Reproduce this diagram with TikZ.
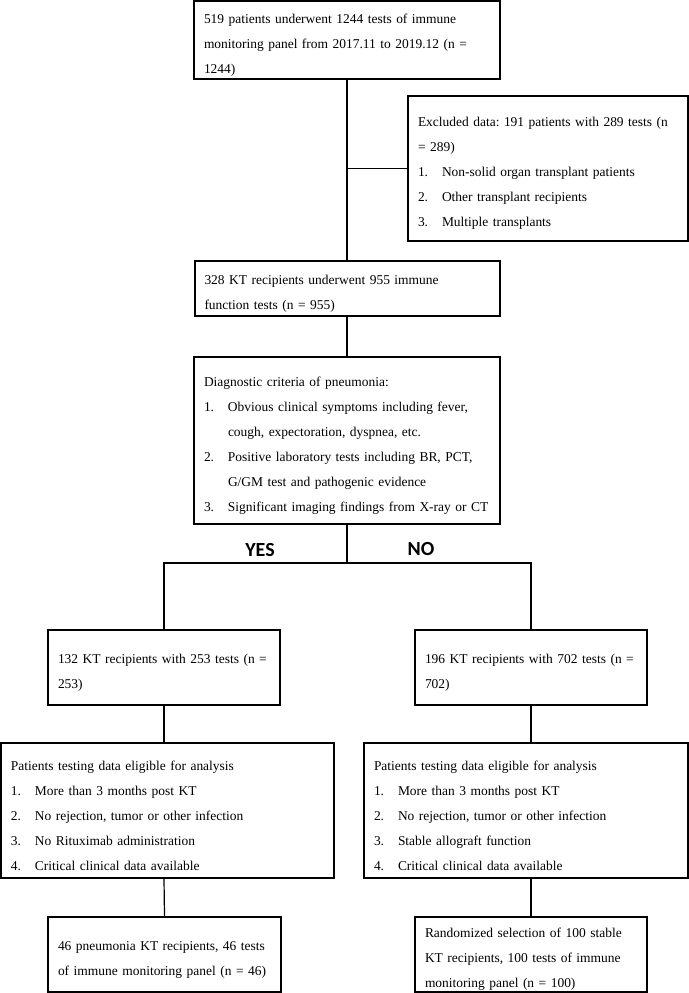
\documentclass[tikz,border=0pt]{standalone}
\usepackage{fontspec}
\setmainfont{Liberation Serif}
\newfontfamily\calfont{Carlito}
\usepackage{tikz}
\newcommand{\inum}[1]{\makebox[18pt][l]{#1}}

\begin{document}
\begin{tikzpicture}[
x=0.75pt,y=-0.75pt,
box/.style n args={2}{draw=black,line width=1.5pt,minimum width=#1*0.75pt,minimum height=#2*0.75pt,text width=(#1-20)*0.75pt,inner xsep=7.5pt,inner ysep=0pt,align=left,
  font=\fontsize{10.1}{18.75}\selectfont\frenchspacing,execute at begin node={\rightskip=-20pt plus 2em\rule{0pt}{14.5pt}}},
link/.style={draw=black,line width=0.9pt},
choice/.style={font=\calfont\bfseries\fontsize{15}{18}\selectfont}
]
\useasboundingbox (0,0) rectangle (689,993);

% top column
\node[box={306}{78}] (start) at (347,40) {519 patients underwent 1244 tests of immune\\ monitoring panel from 2017.11 to 2019.12 (n =\\ 1244)};
\node[box={280}{145}] (excl) at (548,168.5) {Excluded data: 191 patients with 289 tests (n\\ = 289)\\ \inum{1.}Non-solid organ transplant patients\\ \inum{2.}Other transplant recipients\\ \inum{3.}Multiple transplants};
\node[box={305}{55}] (screen) at (347,288.5) {328 KT recipients underwent 955 immune\\ function tests (n = 955)};
\node[box={306}{167}] (diag) at (347,440.5) {Diagnostic criteria of pneumonia:\\ \inum{1.}Obvious clinical symptoms including fever,\\ \inum{}cough, expectoration, dyspnea, etc.\\ \inum{2.}Positive laboratory tests including BR, PCT,\\ \inum{}G/GM test and pathogenic evidence\\ \inum{3.}Significant imaging findings from X-ray or CT};

% pneumonia branch
\node[box={232}{75}] (yes1) at (164,667.5) {132 KT recipients with 253 tests (n =\\ 253)};
\node[box={333}{135}] (yes2) at (167.5,810.5) {Patients testing data eligible for analysis\\ \inum{1.}More than 3 months post KT\\ \inum{2.}No rejection, tumor or other infection\\ \inum{3.}No Rituximab administration\\ \inum{4.}Critical clinical data available};
\node[box={233}{75}] (yes3) at (164.5,954.5) {46 pneumonia KT recipients, 46 tests\\ of immune monitoring panel (n = 46)};

% stable branch
\node[box={232}{75}] (no1) at (531,667.5) {196 KT recipients with 702 tests (n =\\ 702)};
\node[box={324}{135}] (no2) at (526,810.5) {Patients testing data eligible for analysis\\ \inum{1.}More than 3 months post KT\\ \inum{2.}No rejection, tumor or other infection\\ \inum{3.}Stable allograft function\\ \inum{4.}Critical clinical data available};
\node[box={232}{75}] (no3) at (531,954.5) {Randomized selection of 100 stable\\ KT recipients, 100 tests of immune\\ monitoring panel (n = 100)};

\node[choice] (yes) at (260,550) {YES};
\node[choice] (no) at (421,549) {NO};
\coordinate (split) at (347,563);

\draw[link] (start.south) -- (start.south |- screen.north);
\draw[link] (start.south |- excl.west) -- (excl.west);
\draw[link] (screen.south) -- (diag.north);
\draw[link] (diag.south) -- (split);
\draw[link] (yes1.north) |- (split) -| (no1.north);
\draw[link] (yes1.south) -- (yes1.south |- yes2.north);
\draw[link] (yes1.south |- yes2.south) -- (yes3.north);
\draw[link] (no1.south) -- (no1.south |- no2.north);
\draw[link] (no1.south |- no2.south) -- (no3.north);
\end{tikzpicture}
\end{document}
